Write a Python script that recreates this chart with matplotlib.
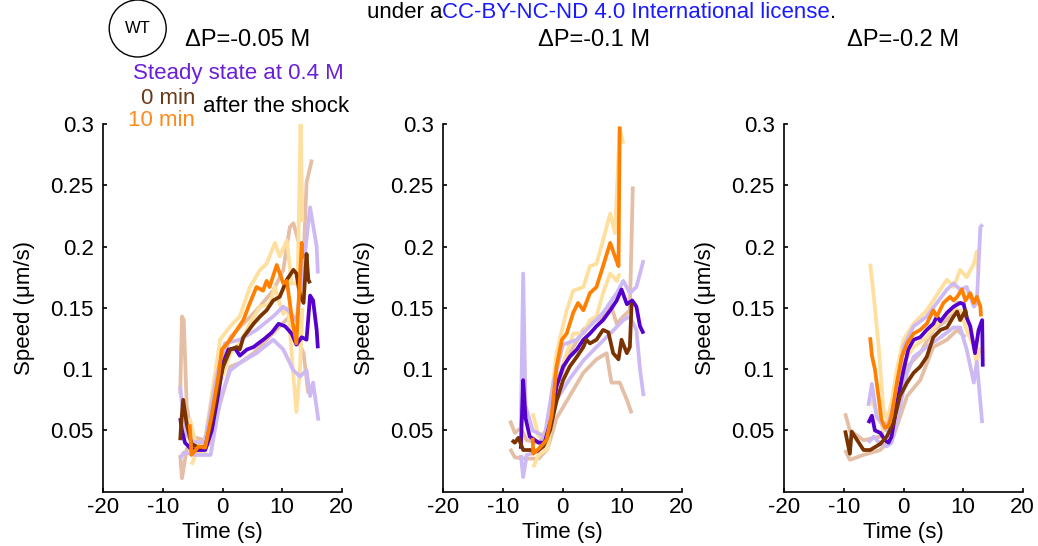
import matplotlib
matplotlib.use("Agg")
import matplotlib.pyplot as plt
from matplotlib.patches import Ellipse

plt.rcParams['font.family'] = ['Liberation Sans', 'DejaVu Sans']

# ---------------- data: (time s, speed um/s) pairs ----------------
# Panel 1: dP = -0.05 M
p1_purple_mean = [(-7.1, 0.060), (-6.8, 0.050), (-6.3, 0.040), (-5.5, 0.036), (-4.6, 0.034), (-2.9, 0.034),
                  (-1.8, 0.050), (-0.7, 0.080), (0.1, 0.105), (1.0, 0.116), (2.1, 0.117), (2.9, 0.111),
                  (4.1, 0.116), (5.2, 0.118), (6.0, 0.121), (7.1, 0.125), (8.3, 0.130), (9.4, 0.137),
                  (10.5, 0.135), (11.6, 0.129), (12.4, 0.120), (13.3, 0.126), (14.1, 0.124), (14.7, 0.160),
                  (15.2, 0.156), (15.8, 0.132), (16.0, 0.117)]
p1_purple_hi = [(-7.1, 0.086), (-6.7, 0.066), (-6.0, 0.046), (-5.0, 0.041), (-3.0, 0.040), (-1.0, 0.094),
                (0.4, 0.121), (2.9, 0.124), (5.7, 0.132), (8.5, 0.143), (10.2, 0.151), (11.2, 0.147),
                (12.4, 0.140), (13.5, 0.180), (14.7, 0.232), (15.8, 0.200), (16.0, 0.178)]
p1_purple_lo = [(-7.1, 0.027), (-6.5, 0.032), (-4.5, 0.030), (-2.0, 0.030), (-0.4, 0.075), (1.3, 0.099),
                (2.9, 0.105), (5.7, 0.113), (8.5, 0.124), (10.2, 0.116), (11.9, 0.099), (13.0, 0.094),
                (14.1, 0.099), (14.7, 0.078), (15.2, 0.089), (16.1, 0.058)]
p1_brown_mean = [(-7.1, 0.042), (-6.9, 0.058), (-6.6, 0.075), (-6.0, 0.055), (-5.2, 0.039), (-4.0, 0.036),
                 (-2.9, 0.037), (-1.8, 0.058), (-0.7, 0.086), (0.1, 0.102), (1.3, 0.116), (2.4, 0.118),
                 (2.9, 0.116), (3.5, 0.126), (5.2, 0.137), (6.3, 0.143), (7.4, 0.148), (8.5, 0.156),
                 (9.6, 0.159), (10.8, 0.173), (11.9, 0.181), (12.4, 0.178), (13.0, 0.160), (13.6, 0.154),
                 (14.1, 0.194), (14.4, 0.173), (14.7, 0.170)]
p1_brown_hi = [(-7.1, 0.080), (-6.8, 0.143), (-6.5, 0.140), (-6.0, 0.070), (-5.2, 0.045), (-3.0, 0.042),
               (-1.8, 0.065), (-0.4, 0.102), (1.3, 0.126), (3.5, 0.137), (5.7, 0.148), (8.5, 0.164),
               (10.2, 0.181), (11.3, 0.216), (11.9, 0.219), (12.7, 0.205), (13.6, 0.189), (14.1, 0.252),
               (15.0, 0.271)]
p1_brown_lo = [(-7.1, 0.030), (-6.8, 0.011), (-6.0, 0.035), (-4.0, 0.032), (-2.0, 0.040), (-0.4, 0.072),
               (1.3, 0.102), (2.9, 0.105), (5.2, 0.113), (7.4, 0.124), (9.6, 0.135), (11.3, 0.143),
               (12.4, 0.126), (13.6, 0.113), (14.4, 0.080)]
p1_orange_mean = [(-5.5, 0.055), (-5.2, 0.030), (-4.0, 0.037), (-2.9, 0.036), (-1.8, 0.063), (-0.7, 0.094),
                  (-0.1, 0.116), (1.3, 0.124), (2.4, 0.132), (3.5, 0.140), (4.6, 0.154), (5.7, 0.167),
                  (6.8, 0.164), (7.4, 0.172), (7.9, 0.167), (9.1, 0.185), (10.2, 0.170), (10.8, 0.172),
                  (11.6, 0.143), (12.4, 0.121), (13.3, 0.203), (13.4, 0.190)]
p1_orange_hi = [(-5.5, 0.060), (-4.5, 0.040), (-3.0, 0.040), (-0.4, 0.124), (1.3, 0.135), (2.9, 0.143),
                (4.6, 0.167), (6.3, 0.181), (7.4, 0.186), (8.8, 0.203), (9.6, 0.192), (10.8, 0.205),
                (11.6, 0.170), (12.6, 0.170), (13.1, 0.300), (13.4, 0.220)]
p1_orange_lo = [(-5.2, 0.022), (-4.5, 0.030), (-3.0, 0.032), (-0.4, 0.089), (1.3, 0.113), (2.9, 0.121),
                (4.6, 0.137), (6.3, 0.151), (7.9, 0.153), (8.8, 0.167), (9.6, 0.153), (10.2, 0.145),
                (11.0, 0.150), (11.8, 0.100), (12.4, 0.065), (13.0, 0.100), (13.4, 0.150)]

# Panel 2: dP = -0.1 M
p2_purple_mean = [(-7.0, 0.035), (-6.6, 0.091), (-6.2, 0.060), (-5.5, 0.045), (-4.0, 0.040), (-3.0, 0.040),
                  (-1.8, 0.061), (-1.0, 0.086), (0.1, 0.102), (1.2, 0.110), (2.4, 0.116), (3.5, 0.124),
                  (4.6, 0.129), (5.7, 0.135), (6.8, 0.140), (8.0, 0.148), (9.1, 0.156), (9.9, 0.165),
                  (10.8, 0.153), (11.7, 0.156), (12.4, 0.151), (13.0, 0.135), (13.6, 0.129)]
p2_purple_hi = [(-7.0, 0.050), (-6.6, 0.178), (-6.2, 0.070), (-5.0, 0.050), (-3.0, 0.045), (-1.5, 0.090),
                (0.1, 0.120), (2.4, 0.124), (4.6, 0.135), (6.8, 0.146), (9.1, 0.162), (10.2, 0.172),
                (11.3, 0.162), (12.4, 0.167), (13.6, 0.189)]
p2_purple_lo = [(-7.0, 0.030), (-6.6, 0.012), (-6.0, 0.030), (-4.0, 0.033), (-1.0, 0.075), (1.2, 0.092),
                (3.5, 0.107), (5.7, 0.118), (8.0, 0.129), (10.2, 0.140), (11.3, 0.143), (12.4, 0.132),
                (13.0, 0.100), (13.6, 0.078)]
p2_brown_mean = [(-8.5, 0.042), (-8.0, 0.040), (-7.4, 0.044), (-6.6, 0.034), (-5.4, 0.034), (-4.3, 0.033),
                 (-3.2, 0.037), (-2.1, 0.050), (-1.0, 0.074), (0.1, 0.091), (1.2, 0.102), (2.4, 0.110),
                 (3.5, 0.118), (4.0, 0.124), (4.6, 0.121), (5.7, 0.124), (6.8, 0.132), (7.7, 0.130),
                 (8.5, 0.113), (9.4, 0.108), (9.9, 0.124), (10.8, 0.113), (11.3, 0.118), (11.6, 0.154)]
p2_brown_hi = [(-8.8, 0.058), (-8.0, 0.048), (-7.0, 0.052), (-6.0, 0.042), (-4.0, 0.040), (-2.5, 0.050),
               (-1.0, 0.086), (1.2, 0.113), (3.5, 0.132), (4.6, 0.137), (6.8, 0.143), (8.0, 0.154),
               (9.1, 0.137), (10.2, 0.143), (11.3, 0.148), (11.8, 0.249)]
p2_brown_lo = [(-8.8, 0.035), (-8.0, 0.028), (-6.0, 0.027), (-4.0, 0.027), (-2.5, 0.035), (-1.0, 0.060),
               (1.2, 0.078), (3.5, 0.097), (5.7, 0.108), (7.4, 0.113), (8.2, 0.089), (9.6, 0.089),
               (10.8, 0.075), (11.6, 0.064)]
p2_orange_mean = [(-5.0, 0.044), (-4.9, 0.031), (-3.8, 0.036), (-2.7, 0.042), (-1.8, 0.063), (-1.0, 0.102),
                  (-0.1, 0.124), (0.7, 0.129), (1.8, 0.146), (2.6, 0.154), (3.5, 0.148), (4.6, 0.162),
                  (5.7, 0.167), (6.8, 0.184), (8.0, 0.203), (8.8, 0.192), (9.4, 0.184), (9.6, 0.298)]
p2_orange_hi = [(-5.0, 0.064), (-4.0, 0.045), (-2.5, 0.050), (-1.0, 0.113), (0.7, 0.148), (1.8, 0.164),
                (3.5, 0.167), (4.6, 0.184), (5.7, 0.186), (6.8, 0.205), (8.0, 0.227), (8.8, 0.211),
                (9.6, 0.296), (10.2, 0.284)]
p2_orange_lo = [(-4.9, 0.020), (-4.0, 0.030), (-2.5, 0.035), (-1.0, 0.089), (0.7, 0.113), (1.8, 0.129),
                (3.5, 0.129), (4.6, 0.140), (5.7, 0.143), (6.8, 0.162), (8.0, 0.178), (9.1, 0.172),
                (9.6, 0.178)]

# Panel 3: dP = -0.2 M
p3_purple_mean = [(-5.9, 0.056), (-5.3, 0.062), (-4.8, 0.050), (-3.9, 0.048), (-3.1, 0.042), (-2.5, 0.040),
                  (-2.0, 0.045), (-1.1, 0.072), (0.0, 0.099), (0.8, 0.116), (1.7, 0.124), (2.8, 0.126),
                  (3.9, 0.132), (5.0, 0.137), (5.6, 0.143), (6.2, 0.139), (7.3, 0.146), (8.4, 0.151),
                  (9.5, 0.154), (10.1, 0.153), (10.6, 0.142), (11.2, 0.135), (12.0, 0.113), (12.6, 0.132),
                  (13.2, 0.140), (13.3, 0.102)]
p3_purple_hi = [(-5.9, 0.070), (-5.3, 0.088), (-4.5, 0.061), (-2.8, 0.050), (-1.1, 0.083), (0.0, 0.118),
                (1.7, 0.135), (3.9, 0.143), (5.6, 0.154), (7.3, 0.165), (8.4, 0.170), (9.5, 0.165),
                (10.6, 0.167), (11.8, 0.151), (12.3, 0.154), (12.9, 0.216), (13.3, 0.218)]
p3_purple_lo = [(-5.9, 0.040), (-5.0, 0.045), (-3.9, 0.039), (-2.8, 0.037), (-2.0, 0.040), (-0.6, 0.069),
                (0.6, 0.097), (1.7, 0.110), (3.9, 0.118), (6.2, 0.126), (8.4, 0.134), (9.5, 0.134),
                (10.6, 0.116), (11.8, 0.089), (12.3, 0.106), (13.2, 0.056)]
p3_brown_mean = [(-9.8, 0.050), (-9.0, 0.031), (-8.7, 0.049), (-6.7, 0.034), (-5.6, 0.034), (-3.9, 0.039),
                 (-2.8, 0.045), (-1.7, 0.056), (-0.6, 0.078), (0.6, 0.089), (1.7, 0.097), (2.8, 0.102),
                 (3.9, 0.110), (5.0, 0.126), (6.2, 0.132), (7.3, 0.134), (8.4, 0.143), (9.0, 0.147),
                 (9.5, 0.140), (10.4, 0.148), (10.6, 0.142)]
p3_brown_hi = [(-9.8, 0.064), (-9.0, 0.050), (-6.7, 0.042), (-3.9, 0.045), (-1.7, 0.067), (0.6, 0.102),
               (2.8, 0.113), (5.0, 0.132), (7.3, 0.140), (9.0, 0.154), (10.4, 0.154)]
p3_brown_lo = [(-9.8, 0.034), (-9.0, 0.026), (-6.7, 0.030), (-3.9, 0.034), (-1.7, 0.045), (0.6, 0.078),
               (2.8, 0.091), (5.0, 0.118), (7.3, 0.124), (9.0, 0.132), (10.4, 0.126)]
p3_orange_mean = [(-5.6, 0.126), (-5.3, 0.111), (-4.8, 0.100), (-4.2, 0.078), (-3.7, 0.059), (-3.1, 0.052),
                  (-2.5, 0.054), (-2.0, 0.062), (-1.1, 0.089), (-0.3, 0.110), (0.6, 0.121), (1.7, 0.129),
                  (2.8, 0.132), (3.9, 0.137), (5.0, 0.148), (5.6, 0.143), (6.7, 0.154), (7.8, 0.159),
                  (8.4, 0.156), (9.0, 0.159), (9.8, 0.165), (10.4, 0.156), (11.2, 0.162), (11.8, 0.154),
                  (12.3, 0.159), (12.9, 0.151), (13.0, 0.143)]
p3_orange_hi = [(-5.6, 0.186), (-5.0, 0.160), (-4.2, 0.120), (-3.4, 0.069), (-2.8, 0.058), (-2.0, 0.073),
                (-1.1, 0.100), (0.0, 0.124), (1.7, 0.137), (3.9, 0.148), (6.2, 0.165), (7.3, 0.173),
                (8.4, 0.167), (9.5, 0.181), (10.6, 0.175), (11.8, 0.186), (12.3, 0.196), (12.6, 0.178)]
p3_orange_lo = [(-5.6, 0.075), (-4.2, 0.064), (-3.4, 0.050), (-2.5, 0.050), (-1.1, 0.078), (0.0, 0.105),
                (1.7, 0.118), (3.9, 0.126), (6.2, 0.140), (8.4, 0.148), (9.5, 0.148), (10.6, 0.132),
                (11.8, 0.118), (12.3, 0.105), (12.9, 0.118)]

panel_titles = ["ΔP=-0.05 M", "ΔP=-0.1 M", "ΔP=-0.2 M"]
x_ticks = [-20, -10, 0, 10, 20]
y_ticks = [0.05, 0.1, 0.15, 0.2, 0.25, 0.3]
y_tick_labels = ["0.05", "0.1", "0.15", "0.2", "0.25", "0.3"]

panels = [
    dict(purple=(p1_purple_mean, p1_purple_hi, p1_purple_lo),
         brown=(p1_brown_mean, p1_brown_hi, p1_brown_lo),
         orange=(p1_orange_mean, p1_orange_hi, p1_orange_lo)),
    dict(purple=(p2_purple_mean, p2_purple_hi, p2_purple_lo),
         brown=(p2_brown_mean, p2_brown_hi, p2_brown_lo),
         orange=(p2_orange_mean, p2_orange_hi, p2_orange_lo)),
    dict(purple=(p3_purple_mean, p3_purple_hi, p3_purple_lo),
         brown=(p3_brown_mean, p3_brown_hi, p3_brown_lo),
         orange=(p3_orange_mean, p3_orange_hi, p3_orange_lo)),
]

dark = dict(purple="#5500cc", brown="#7a3300", orange="#ff8000")
light = dict(purple="#cdbaf5", brown="#e4bea5", orange="#ffdf9e")

W, H = 1038, 546
fig = plt.figure(figsize=(W / 100, H / 100), dpi=100)

lefts = [103.3, 443.3, 784.3]
ax_w = 238.4
ax_bottom_px = 491.7
ax_h = 367.7
FS = 16
LW = 2.7

for i, pdata in enumerate(panels):
    ax = fig.add_axes([lefts[i] / W, (H - ax_bottom_px) / H, ax_w / W, ax_h / H])
    for key in ["brown", "orange", "purple"]:
        mean, hi, lo = pdata[key]
        for seq in (hi, lo):
            ax.plot([p[0] for p in seq], [p[1] for p in seq], color=light[key], lw=LW,
                    solid_capstyle='butt', solid_joinstyle='round', zorder=2)
    for key in ["purple", "brown", "orange"]:
        mean, hi, lo = pdata[key]
        ax.plot([p[0] for p in mean], [p[1] for p in mean], color=dark[key], lw=LW,
                solid_capstyle='butt', solid_joinstyle='round', zorder=3)
    ax.set_xlim(-20, 20)
    ax.set_ylim(0, 0.3)
    ax.set_xticks(x_ticks)
    ax.set_xticklabels([str(t) for t in x_ticks])
    ax.set_yticks(y_ticks)
    ax.set_yticklabels(y_tick_labels)
    for s in ["top", "right"]:
        ax.spines[s].set_visible(False)
    for s in ["left", "bottom"]:
        ax.spines[s].set_linewidth(1.2)
    ax.tick_params(direction="in", length=3, width=1.2, labelsize=FS)
    ax.tick_params(axis="y", pad=7)
    ax.tick_params(axis="x", pad=4)
    ax.set_xlabel("Time (s)", fontsize=FS)
    ax.xaxis.set_label_coords(0.5, -0.112)
    ax.xaxis.label.set_va("center")
    ax.set_ylabel("Speed (μm/s)", fontsize=FS)
    ax.yaxis.set_label_coords(-0.33, 0.5)
    ax.yaxis.label.set_va("center")
    ax.patch.set_alpha(0)

def ft(x, y, s, **kw):
    fig.text(x / W, 1 - y / H, s, **kw)

title_x = [248, 594, 903.5]
for tx, tt in zip(title_x, panel_titles):
    ft(tx, 40, tt, ha="center", va="center", fontsize=17)

# WT circle
fig.add_artist(Ellipse((137.7 / W, 1 - 28.5 / H), 57 / W, 57 / H, transform=fig.transFigure,
                       fill=False, lw=1.0, ec="black"))
ft(137.7, 28.5, "WT", ha="center", va="center", fontsize=12)

ft(238, 73, "Steady state at 0.4 M", ha="center", va="center", fontsize=FS, color="#6a1fd8")
ft(195, 99, "0 min", ha="right", va="center", fontsize=FS, color="#6b3a17")
ft(195, 120, "10 min", ha="right", va="center", fontsize=FS, color="#ff8a1a")
ft(203, 107, "after the shock", ha="left", va="center", fontsize=FS, color="black")

# header text fragment
HFS = 16
t1 = fig.text(367 / W, 1 - 12 / H, "under a", ha="left", va="center", fontsize=HFS, color="black")
fig.canvas.draw()
r = fig.canvas.get_renderer()
bb = t1.get_window_extent(renderer=r)
t2 = fig.text(bb.x1 / W, 1 - 12 / H, "CC-BY-NC-ND 4.0 International license", ha="left", va="center",
              fontsize=HFS, color="#1a1aff")
bb2 = t2.get_window_extent(renderer=r)
fig.text(bb2.x1 / W, 1 - 12 / H, ".", ha="left", va="center", fontsize=HFS, color="black")

fig.savefig("out.png", dpi=100)
